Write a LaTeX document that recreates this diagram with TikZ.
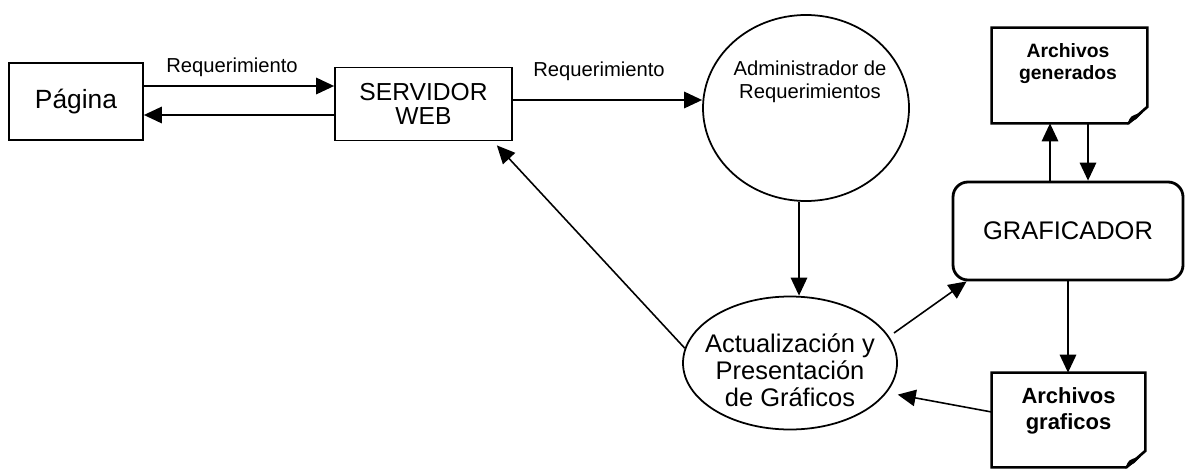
\documentclass[tikz,border=0pt]{standalone}
\usepackage{fontspec}
\setsansfont{Liberation Sans}
\usepackage{tikz}
\usetikzlibrary{arrows.meta}
\usetikzlibrary{calc,shapes.geometric,positioning}

\begin{document}
\begin{tikzpicture}[boxnode/.style = {draw=black, line width=1pt, align=center, inner sep=1pt, font=\sffamily},
		ovalnode/.style = {ellipse, draw=black, line width=1pt, inner sep=0pt},
		docnode/.style = {inner sep=0pt},
		txtnode/.style = {align=center, inner sep=1pt, font=\sffamily},
		flow/.style = {line width=0.9pt, -{Triangle[length=0.36cm, width=0.33cm]}},
		fold/.store in=\foldsize, fold=0.38cm, ]
	\useasboundingbox (0,0) rectangle (23.76,9.4);
	% left side
	\node [boxnode, minimum width=2.68cm, minimum height=1.54cm, font=\sffamily\fontsize{15}{17}\selectfont] (pagina) at (1.52,7.37) {Página};
	\node [boxnode, minimum width=3.54cm, minimum height=1.46cm, font=\sffamily\fontsize{14}{14}\selectfont] (servidor) at (8.47,7.32) {SERVIDOR\\WEB};
	\node [txtnode, font=\sffamily\fontsize{11.5}{13}\selectfont] (req1) at (4.64,8.06) {Requerimiento};
	\node [txtnode, font=\sffamily\fontsize{11.5}{13}\selectfont] (req2) at (11.98,7.98) {Requerimiento};
	% processes
	\node [ovalnode, minimum width=4.12cm, minimum height=3.72cm] (admin) at (16.12,7.24) {};
	\node [txtnode, font=\sffamily\fontsize{11.5}{13}\selectfont] (admintxt) at (16.2,7.76) {Administrador de\\Requerimientos};
	\node [ovalnode, minimum width=4.28cm, minimum height=2.66cm] (act) at (15.8,2.14) {};
	\node [txtnode, font=\sffamily\fontsize{14.5}{15.3}\selectfont] (acttxt) at (15.8,2.0) {Actualización y\\Presentación\\de Gráficos};
	\node [boxnode, rounded corners=0.3cm, line width=1.6pt, minimum width=4.6cm, minimum height=1.96cm, font=\sffamily\fontsize{14.5}{17}\selectfont] (graf) at (21.36,4.78) {GRAFICADOR};
	% files
	\node [docnode, minimum width=3.1cm, minimum height=1.9cm] (gen) at (21.39,7.89) {};
	\node [txtnode, font=\sffamily\bfseries\fontsize{11}{13}\selectfont] (gentxt) at (21.36,8.13) {Archivos\\generados};
	\node [docnode, minimum width=3.06cm, minimum height=1.88cm] (grafs) at (21.37,1.0) {};
	\node [txtnode, font=\sffamily\bfseries\fontsize{12.5}{15}\selectfont] (grafstxt) at (21.37,1.18) {Archivos\\graficos};
	\foreach \d in {gen,grafs} {
		\draw [line width=1.5pt, line join=miter] (\d.south west) -- (\d.north west) -- (\d.north east)
			-- ([yshift=\foldsize-0.05cm]\d.south east) -- ([xshift=-\foldsize]\d.south east) -- cycle;
		\filldraw [line width=0.6pt] ([xshift=-\foldsize]\d.south east) .. controls ([xshift=-0.33cm,yshift=0.14cm]\d.south east)
			.. ([xshift=-0.12cm,yshift=0.2cm]\d.south east) -- ([xshift=-0.22cm,yshift=0.1cm]\d.south east) -- cycle;
	}
	% connectors
	\draw [flow] ([yshift=0.31cm]pagina.east) -- ([yshift=0.31cm]pagina.east -| servidor.west);
	\draw [flow] ([yshift=-0.27cm]pagina.east -| servidor.west) -- ([yshift=-0.27cm]pagina.east);
	\draw [flow] ([yshift=0.08cm]servidor.east) -- ([yshift=0.08cm]servidor.east -| admin.west);
	\draw [flow] ([xshift=-0.14cm]admin.south) -- ([xshift=-0.14cm]admin.south |- act.north);
	\draw [flow, shorten <=0.12cm] (act.15) -- ([xshift=0.3cm]graf.south west);
	\draw [flow] ([xshift=-0.36cm]graf.north) -- ([xshift=-0.36cm]graf.north |- gen.south);
	\draw [flow] ([xshift=0.4cm]graf.north |- gen.south) -- ([xshift=0.4cm]graf.north);
	\draw [flow] (graf.south) -- (graf.south |- grafs.north);
	\draw [flow, shorten >=0.22cm] ([yshift=0.16cm]grafs.west) -- (act.-17);
	\draw [flow] (act.172) -- ([xshift=-0.32cm,yshift=-0.08cm]servidor.south east);
\end{tikzpicture}
\end{document}
